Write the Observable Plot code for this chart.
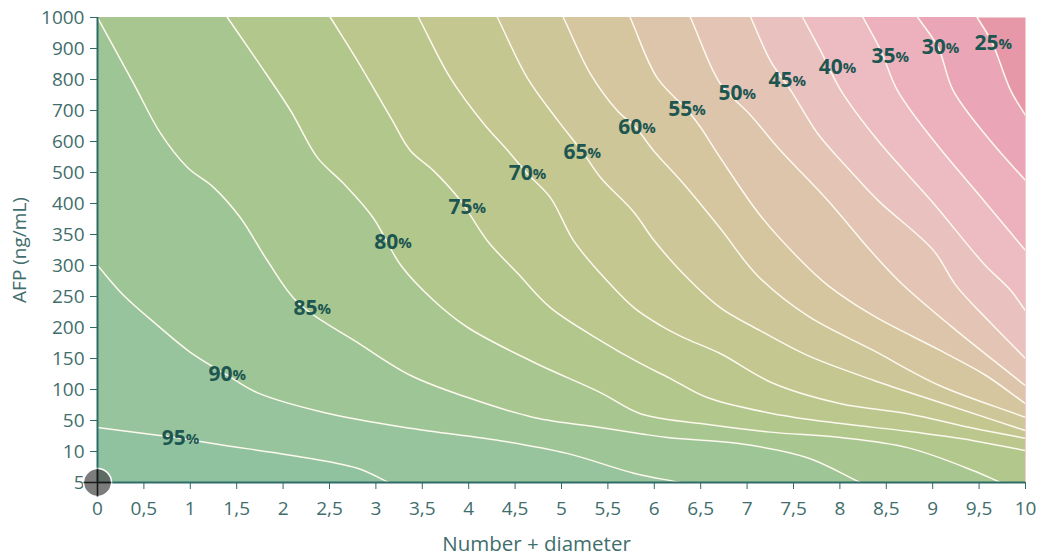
<!DOCTYPE html>
<html><head><meta charset="utf-8">
<script src="https://cdn.jsdelivr.net/npm/d3@7"></script>
<script src="https://cdn.jsdelivr.net/npm/@observablehq/plot@0.6"></script>
<style>
body{margin:0;background:#fff;}
#chart{width:1038px;height:560px;}
</style></head><body><div id="chart"></div>
<script>
// ---- data ----
const afpTicks = [5,10,50,100,150,200,250,300,350,400,500,600,700,800,900,1000];
const xTicks = [0,0.5,1,1.5,2,2.5,3,3.5,4,4.5,5,5.5,6,6.5,7,7.5,8,8.5,9,9.5,10];
const levels = [25,30,35,40,45,50,55,60,65,70,75,80,85,90,95];

// contour lines: [Number + diameter, AFP ng/mL]
const c95 = [[0,41],[0.65,31],[0.89,27],[1.36,18],[2.08,9.4],[2.80,7.3],[3.14,5]];
const c90 = [[0,300],[0.28,252],[0.65,203],[1.00,160],[1.40,123],[1.72,95],[2.44,63],[3.37,40],[4.34,24],[5.06,9.7],[5.78,6.5],[6.28,5]];
const c85 = [[0,1000],[0.39,787],[0.68,626],[0.97,516],[1.25,452],[1.54,377],[1.83,308],[2.16,240],[2.80,176],[3.37,123],[3.99,87],[4.70,55],[5.42,41],[5.85,33],[6.14,28],[6.93,20],[7.65,9],[8.22,5]];
const c80 = [[1.40,1000],[1.72,861],[2.08,700],[2.37,548],[2.65,465],[2.97,377],[3.27,300],[3.62,244],[3.99,200],[4.70,144],[5.42,95],[5.85,61],[6.50,46],[7.25,35],[8.01,28],[8.73,15],[9.44,6.9],[9.73,5]];
const c75 = [[2.51,1000],[2.80,861],[3.16,677],[3.37,571],[3.62,506],[3.91,410],[4.20,340],[4.53,287],[4.88,232],[5.42,179],[5.85,142],[6.17,118],[6.57,87],[7.28,61],[8.01,46],[8.73,36],[9.44,24],[10,11.3]];
const c70 = [[3.46,1000],[3.80,806],[4.16,658],[4.42,571],[4.63,497],[4.88,419],[5.13,340],[5.42,287],[5.78,232],[6.07,203],[6.31,184],[6.71,158],[7.28,110],[8.01,77],[8.73,61],[9.44,40],[10,27]];
const c65 = [[4.31,1000],[4.63,806],[4.96,668],[5.23,565],[5.42,484],[5.78,386],[5.99,342],[6.31,287],[6.71,232],[7.14,195],[7.65,155],[8.36,115],[9.08,79],[10,37]];
const c60 = [[5.02,1000],[5.31,819],[5.60,700],[5.80,645],[5.99,571],[6.31,465],[6.71,360],[7.11,284],[7.65,219],[8.36,163],[9.08,106],[10,55]];
const c55 = [[5.74,1000],[6.03,806],[6.36,700],[6.50,645],[6.71,548],[7.14,381],[7.58,308],[7.87,268],[8.36,219],[9.08,163],[9.57,123],[10,77]];
const c50 = [[6.39,1000],[6.71,787],[7.04,684],[7.33,581],[7.87,410],[8.33,324],[8.65,273],[9.19,203],[10,106]];
const c45 = [[7.04,1000],[7.25,861],[7.47,765],[7.76,626],[8.11,506],[8.41,410],[9.01,324],[9.25,268],[9.62,208],[10,150]];
const c40 = [[7.60,1000],[7.79,894],[8.01,765],[8.41,603],[9.01,400],[9.55,303],[9.84,260],[10,227]];
const c35 = [[8.25,1000],[8.44,894],[8.62,765],[9.01,603],[9.55,410],[10,324]];
const c30 = [[8.84,1000],[9.06,903],[9.22,765],[9.62,603],[10,474]];
const c25 = [[9.48,1000],[9.64,919],[9.84,765],[10,684]];

// label anchor (junction between number and "%") per level
const labelX   = [9.71,9.14,8.60,8.03,7.49,6.95,6.41,5.87,5.28,4.69,4.04,3.24,2.37,1.455,0.95];
const labelAfp = [916, 903, 874, 839, 797, 755, 703, 645, 565, 497, 394, 337, 231, 124, 27];

const marker = {x: 0, afp: 5};

// ---- styles ----
const bandDomain = [20,25,30,35,40,45,50,55,60,65,70,75,80,85,90,95];
const bandColors = ["#e697a8","#eaa6b6","#edb1be","#edbcc2","#e9c2bf","#e3c4b5","#dcc5aa","#d5c6a0","#cdc698","#c5c791","#bcc78d","#b2c78c","#a7c690","#9ec596","#97c49c","#90c2a0"];
const textColor = "#3f6e6c";
const labelColor = "#1d5651";

// ---- build tables ----
const contours = {25:c25,30:c30,35:c35,40:c40,45:c45,50:c50,55:c55,60:c60,65:c65,70:c70,75:c75,80:c80,85:c85,90:c90,95:c95};
const toIdx = d3.scaleLinear().domain(afpTicks).range(d3.range(afpTicks.length));
const lineRows = [], areaRows = [];
for (const L of levels) {
  const pts = contours[L].map(([x, a]) => ({x, y: toIdx(a)}));
  const f = pts[0], s = pts[1], l = pts[pts.length-1], p = pts[pts.length-2];
  const extS = {x: 2*f.x - s.x, y: 2*f.y - s.y};
  const extE = {x: 2*l.x - p.x, y: 2*l.y - p.y};
  const path = [extS, ...pts, extE];
  path.forEach(q => lineRows.push({level: L, x: q.x, y: q.y}));
  const area = f.y > 14.999 ? [{x: Math.min(-1, extS.x - 1), y: extS.y + 1}, ...path] : path;
  area.forEach(q => areaRows.push({level: L, x: q.x, y: q.y, base: -3}));
}
const labels = levels.map((L, i) => ({level: L, x: labelX[i], y: toIdx(labelAfp[i])}));

const chart = Plot.plot({
  width: 1038,
  height: 560,
  marginLeft: 97,
  marginRight: 13,
  marginTop: 17,
  marginBottom: 78,
  style: {fontFamily: "'Open Sans', sans-serif", fontSize: "19px", color: textColor, background: "#fff"},
  x: {domain: [0, 10]},
  y: {domain: [0, 15]},
  color: {type: "ordinal", domain: bandDomain, range: bandColors},
  marks: [
    Plot.frame({fill: bandColors[0], stroke: null}),
    Plot.area(areaRows, {x1: "x", y1: "base", y2: "y", z: "level", fill: "level", curve: "catmull-rom", clip: true}),
    Plot.line(lineRows, {x: "x", y: "y", z: "level", stroke: "#fdf9ee", strokeWidth: 1.5, curve: "catmull-rom", clip: true}),
    Plot.text(labels, {x: "x", y: "y", text: d => String(d.level), textAnchor: "end", fontSize: 21, fontWeight: 700, fill: labelColor}),
    Plot.text(labels, {x: "x", y: "y", text: () => "%", textAnchor: "start", fontSize: 15, fontWeight: 700, fill: labelColor, dy: 1}),
    Plot.ruleX([0], {stroke: "#2f6c69", strokeWidth: 2}),
    Plot.ruleY([0], {stroke: "#2f6c69", strokeWidth: 2}),
    Plot.axisY({ticks: d3.range(afpTicks.length), tickFormat: i => String(afpTicks[i]), tickSize: 7, tickPadding: 6, stroke: "#2f6c69", label: "AFP (ng/mL)", labelAnchor: "center", labelArrow: "none", labelOffset: 85}),
    Plot.axisX({ticks: xTicks, tickFormat: d => String(d).replace(".", ","), tickSize: 7, tickPadding: 12, stroke: "#2f6c69", label: null}),
    Plot.text(["Number + diameter"], {frameAnchor: "bottom", dy: 68, dx: -25, fontSize: 20.5, fill: textColor}),
    Plot.dot([marker], {x: "x", y: d => toIdx(d.afp), r: 14, fill: "#4a4a4a", fillOpacity: 0.72, stroke: "#fff", strokeWidth: 1.5}),
    Plot.dot([marker], {x: "x", y: d => toIdx(d.afp), r: 9, symbol: "plus", stroke: "#1a1a1a", strokeWidth: 1.6})
  ]
});
document.getElementById("chart").appendChild(chart);
</script>
</body></html>
